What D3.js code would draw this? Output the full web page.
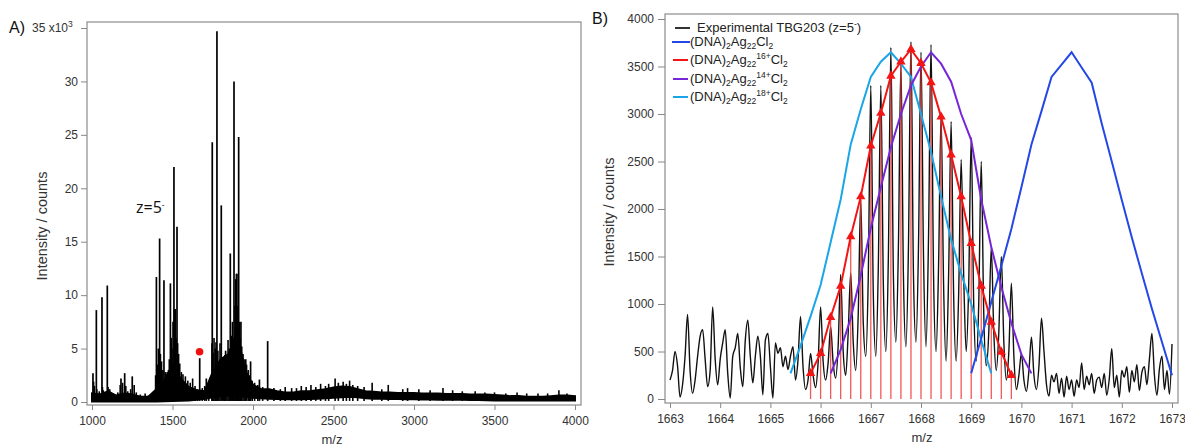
<!DOCTYPE html>
<html>
<head>
<meta charset="utf-8">
<script src="https://cdn.jsdelivr.net/npm/d3@7"></script>
<style>
  body { margin: 0; background: #fff; }
  svg { display: block; font-family: "Liberation Sans", Arial, sans-serif; }
  .tick text { fill: #333; font-size: 12px; }
  .tick line { stroke: #888; }
</style>
</head>
<body>
<svg id="chart" width="1185" height="447"></svg>
<script>
// ---- panel A data (intensity in x10^3 counts) ----
var majorMz  = [1006, 1027, 1062, 1095, 1180, 1203, 1250, 1400, 1420, 1447, 1467, 1487, 1509, 1518, 1528, 1669, 1710, 1747, 1776, 1803, 1830, 1859, 1882, 1897, 1911, 1925, 1955, 1985, 2040, 2091];
var majorInt = [2.7, 8.6, 9.8, 10.9, 2.2, 2.7, 2.4, 11.7, 15.3, 11.4, 2.8, 11.1, 22.0, 8.7, 16.4, 4.1, 2.2, 24.3, 34.7, 18.4, 4.8, 13.9, 30.0, 12.0, 24.8, 7.5, 4.0, 3.8, 2.1, 5.7];

var minorMz  = [1010, 1015, 1030, 1045, 1065, 1070, 1085, 1100, 1110, 1120, 1160, 1175, 1190, 1210, 1222, 1240, 1262, 1275, 1300, 1330, 1350, 1370,
                1395, 1405, 1412, 1425, 1432, 1440, 1455, 1460, 1475, 1480, 1492, 1497, 1503, 1512, 1516, 1522, 1532, 1538, 1545, 1555, 1565, 1580, 1595, 1610, 1625, 1640, 1655, 1685, 1700, 1725,
                1745, 1752, 1758, 1765, 1770, 1782, 1788, 1795, 1810, 1818, 1825, 1838, 1845, 1852, 1865, 1872, 1878, 1888, 1893, 1900, 1905, 1915, 1920, 1930, 1938, 1945, 1960, 1970, 1980, 1995, 2010, 2030, 2060,
                2130, 2170, 2200, 2240, 2270, 2300, 2330, 2360, 2390, 2420, 2450, 2470, 2510, 2530, 2560, 2580, 2600, 2620, 2650, 2690, 2740, 2800, 2840, 2930, 2960, 3030, 3100, 3180, 3240, 3300, 3380, 3440, 3500, 3570, 3640, 3700, 3770, 3830, 3900, 3950];
var minorInt = [1.9, 1.5, 1.2, 1.0, 1.4, 1.1, 0.9, 1.4, 1.2, 0.8, 0.9, 1.6, 1.8, 1.5, 1.0, 1.2, 1.6, 0.9, 0.7, 0.8, 0.6, 0.7,
                2.5, 3.5, 5.0, 4.5, 3.8, 3.0, 2.8, 2.6, 3.0, 4.0, 6.0, 5.0, 7.5, 8.7, 6.5, 6.0, 5.5, 4.5, 3.6, 2.8, 2.6, 2.4, 2.0, 1.8, 2.2, 1.5, 1.2, 1.3, 1.5, 1.7,
                5.5, 4.6, 6.0, 5.0, 5.6, 4.8, 3.5, 5.5, 3.8, 3.2, 4.4, 3.4, 5.8, 5.0, 6.2, 7.5, 6.0, 9.0, 11.5, 12.0, 9.0, 7.5, 6.0, 5.2, 4.5, 4.0, 3.5, 3.0, 2.5, 2.0, 1.8, 1.6, 1.4,
                1.3, 1.2, 1.4, 1.3, 1.3, 1.5, 1.4, 1.6, 1.4, 1.7, 1.5, 1.7, 2.2, 1.8, 1.9, 1.7, 2.0, 1.6, 1.5, 1.4, 1.8, 1.2, 1.6, 1.2, 1.3, 1.2, 1.1, 1.3, 1.1, 1.0, 1.0, 0.9, 0.9, 0.8, 0.9, 0.8, 0.8, 0.8, 1.1, 0.8];

// baseline band, every 50 m/z from 1000 to 4000
var bandMz = d3.range(1000, 4001, 50);
var bandTop = [0.8, 0.7, 1.0, 0.6, 0.8, 0.7, 0.5, 0.5, 1.2, 2.0, 3.5, 2.2, 1.4, 1.1, 1.0, 2.8, 4.0, 4.5, 6.5, 3.0, 1.6,
               1.2, 1.2, 1.0, 0.9, 0.9, 1.0, 1.0, 1.1, 1.2, 1.35, 1.45, 1.4, 1.2, 1.0, 0.95, 0.9, 0.9, 0.85, 0.85, 0.85,
               0.8, 0.8, 0.8, 0.75, 0.75, 0.75, 0.7, 0.7, 0.7, 0.65, 0.6, 0.55, 0.55, 0.5, 0.5, 0.5, 0.55, 0.6, 0.6, 0.55];
var bandBot = [0.05, 0.05, 0.05, 0.05, 0.05, 0.05, 0.05, 0.05, 0.05, 0.08, 0.1, 0.12, 0.15, 0.2, 0.3, 0.45, 0.55, 0.6, 0.6, 0.5, 0.4,
               0.35, 0.3, 0.28, 0.25, 0.25, 0.25, 0.28, 0.3, 0.35, 0.4, 0.45, 0.5, 0.45, 0.35, 0.3, 0.3, 0.28, 0.27, 0.26, 0.25,
               0.24, 0.23, 0.22, 0.21, 0.2, 0.2, 0.19, 0.18, 0.17, 0.15, 0.15, 0.15, 0.15, 0.15, 0.15, 0.15, 0.15, 0.15, 0.15, 0.15];

var markMz = 1668, markInt = 4.7;
var aYTicks = [0, 5, 10, 15, 20, 25, 30, 35];
var aXTicks = [1000, 1500, 2000, 2500, 3000, 3500, 4000];

// ---- panel B data ----
var expStart = 1663, expStep = 0.05;
var expInt = [
  200, 300, 500, 350, 20, 150, 450, 890, 300, 60, 200, 450, 660, 730, 420, 130, 300, 970, 420, 150,
  420, 590, 730, 270, 10, 450, 540, 690, 330, 130, 620, 830, 450, 170, 450, 660, 450, 45, 620, 690,
  340, 10, 590, 480, 540, 340, 450, 310, 450, 550, 200, 410, 870, 340, 100,
  200, 480, 250, 120, 380, 970, 400, 200, 380, 760, 380, 220, 560, 1310, 500, 250, 700, 1330, 600, 300,
  900, 2100, 800, 450, 1300, 3300, 1100, 450, 1400, 3300, 1200, 500, 1500, 3700, 1300, 600, 1600, 3550, 1300, 550,
  1600, 3760, 1300, 600, 1600, 3650, 1500, 550, 1700, 3730, 1300, 500, 1400, 3000, 1200, 400, 1300, 2920, 1100, 400,
  1100, 2520, 1300, 500, 1200, 2750, 1000, 400, 1000, 2500, 900, 350, 700, 1600, 700, 300, 700, 1500, 600, 200,
  500, 1220, 450, 100, 250, 480, 200, 80, 300, 650, 250, 100, 350, 850,
  500, 150, 30, 250, 180, 270, 60, 220, 20, 240, 100, 200, 30, 200, 120, 380, 100, 240, 150, 270,
  60, 200, 230, 120, 270, 40, 210, 530, 120, 250, 20, 300, 230, 340, 70, 300, 180, 360, 90, 280,
  340, 150, 420, 690, 250, 40, 320, 450, 100, 300, 50, 580];

var simStep = 0.2;
var blueStart = 1669.0;
var blueInt   = [270, 640, 1020, 1400, 1790, 2230, 2680, 3030, 3390, 3520, 3650, 3490, 3330, 2900, 2500, 2095, 1700, 1320, 950, 600, 250];
var redStart = 1665.8;
var redInt    = [270, 480, 860, 1190, 1710, 2130, 2665, 3010, 3400, 3550, 3680, 3535, 3330, 2970, 2570, 2130, 1640, 1190, 810, 495, 250];
var purpleStart = 1666.2;
var purpleInt = [270, 520, 850, 1300, 1800, 2230, 2650, 3000, 3300, 3500, 3650, 3530, 3340, 3000, 2725, 2100, 1600, 1180, 800, 470, 270];
var cyanStart = 1665.4;
var cyanInt   = [270, 560, 870, 1200, 1650, 2100, 2680, 3050, 3390, 3550, 3650, 3530, 3390, 3000, 2600, 2130, 1680, 1320, 1000, 620, 270];

var bXTicks = d3.range(1663, 1674);
var bYTicks = d3.range(0, 4001, 500);

var C_BLUE = "#2448e6", C_RED = "#f41414", C_PURPLE = "#7626d8", C_CYAN = "#1aa6e6";

(function(){
  var svg = d3.select("#chart");

  function toPts(start, vals) {
    return vals.map(function(v, i){ return [start + i * simStep, v]; });
  }

  // superscript/subscript text helper
  function richText(sel, parts) {
    var prev = 0;
    parts.forEach(function(p){
      var shift = p[1] === 1 ? 3 : (p[1] === -1 ? -5 : 0);
      sel.append("tspan")
        .attr("dy", shift - prev)
        .style("font-size", p[1] ? "8.5px" : null)
        .text(p[0]);
      prev = shift;
    });
  }

  /////////////////////////////////////////////////////////////////////
  // PANEL A
  /////////////////////////////////////////////////////////////////////
  var ax = d3.scaleLinear().domain([1000, 4000]).range([92, 575]),
      ay = d3.scaleLinear().domain([0, 35]).range([402, 28]);

  var gA = svg.append("g");

  gA.append("rect").attr("x", 87).attr("y", 22).attr("width", 494).attr("height", 383)
    .attr("fill", "none").attr("stroke", "#8c8c8c").attr("stroke-width", 1.2);

  var band = bandMz.map(function(m, i){ return {m: m, t: bandTop[i], b: bandBot[i]}; });
  gA.append("path").datum(band)
    .attr("d", d3.area().x(function(d){ return ax(d.m); })
      .y0(function(d){ return ay(d.b); }).y1(function(d){ return ay(d.t); }))
    .attr("fill", "#000").attr("stroke", "#000").attr("stroke-width", 2);

  gA.selectAll("line.minor").data(minorMz).enter().append("line")
    .attr("class", "minor")
    .attr("x1", function(d){ return ax(d); }).attr("x2", function(d){ return ax(d); })
    .attr("y1", ay(0.1)).attr("y2", function(d, i){ return ay(minorInt[i]); })
    .attr("stroke", "#000").attr("stroke-width", 1.6);

  gA.selectAll("line.major").data(majorMz).enter().append("line")
    .attr("class", "major")
    .attr("x1", function(d){ return ax(d); }).attr("x2", function(d){ return ax(d); })
    .attr("y1", ay(0.1)).attr("y2", function(d, i){ return ay(majorInt[i]); })
    .attr("stroke", "#000").attr("stroke-width", 1.7);

  gA.append("circle").attr("cx", ax(markMz)).attr("cy", ay(markInt)).attr("r", 3.8).attr("fill", "#f01010");

  var axA = gA.append("g").attr("transform", "translate(0,405)")
    .call(d3.axisBottom(ax).tickValues(aXTicks).tickSize(5).tickPadding(6).tickSizeOuter(0).tickFormat(d3.format("d")));
  axA.select(".domain").remove();

  var ayA = gA.append("g").attr("transform", "translate(87,0)")
    .call(d3.axisLeft(ay).tickValues(aYTicks).tickSize(6).tickPadding(3).tickSizeOuter(0)
      .tickFormat(function(d){ return d === 35 ? "" : d; }));
  ayA.select(".domain").remove();
  var top35 = gA.append("text").attr("x", 32).attr("y", ay(35) + 4).attr("fill", "#333").style("font-size", "12px");
  richText(top35, [["35 x10", 0], ["3", -1]]);

  gA.append("text").attr("transform", "translate(47,226) rotate(-90)")
    .attr("text-anchor", "middle").attr("fill", "#333").style("font-size", "14.5px")
    .text("Intensity / counts");
  gA.append("text").attr("x", 332).attr("y", 444).attr("text-anchor", "middle")
    .attr("fill", "#333").style("font-size", "13px").text("m/z");

  gA.append("text").attr("x", 9).attr("y", 33).style("font-size", "16px").attr("fill", "#111").text("A)");
  var zt = gA.append("text").attr("x", 136).attr("y", 213).style("font-size", "16px")
    .style("font-family", "'Open Sans', sans-serif").attr("fill", "#111");
  richText(zt, [["z=5", 0], ["-", -1]]);

  /////////////////////////////////////////////////////////////////////
  // PANEL B
  /////////////////////////////////////////////////////////////////////
  var bx = d3.scaleLinear().domain([1663, 1673]).range([670, 1172]),
      by = d3.scaleLinear().domain([0, 4000]).range([399, 19]);

  var gB = svg.append("g");

  gB.append("rect").attr("x", 665).attr("y", 14).attr("width", 513).attr("height", 389)
    .attr("fill", "none").attr("stroke", "#8c8c8c").attr("stroke-width", 1.2);

  var line = d3.line().x(function(d){ return bx(d[0]); }).y(function(d){ return by(d[1]); });

  // experimental trace
  var expPts = expInt.map(function(v, i){ return [expStart + i * expStep, v]; });
  gB.append("path").datum(expPts).attr("d", line.curve(d3.curveMonotoneX))
    .attr("fill", "none").attr("stroke", "#111").attr("stroke-width", 1.4);
  line.curve(d3.curveLinear);

  // red sticks
  var redPts = toPts(redStart, redInt);
  gB.selectAll("line.stick").data(redPts).enter().append("line")
    .attr("class", "stick")
    .attr("x1", function(d){ return bx(d[0]); }).attr("x2", function(d){ return bx(d[0]); })
    .attr("y1", by(0)).attr("y2", function(d){ return by(d[1]); })
    .attr("stroke", "#f03a3a").attr("stroke-opacity", 0.85).attr("stroke-width", 1.3);

  [[cyanStart, cyanInt, C_CYAN], [purpleStart, purpleInt, C_PURPLE], [blueStart, blueInt, C_BLUE]].forEach(function(s){
    gB.append("path").datum(toPts(s[0], s[1])).attr("d", line)
      .attr("fill", "none").attr("stroke", s[2]).attr("stroke-width", 2);
  });

  gB.append("path").datum(redPts).attr("d", line)
    .attr("fill", "none").attr("stroke", C_RED).attr("stroke-width", 2);
  gB.selectAll("path.tri").data(redPts).enter().append("path")
    .attr("class", "tri")
    .attr("transform", function(d){ return "translate(" + bx(d[0]) + "," + by(d[1]) + ")"; })
    .attr("d", d3.symbol().type(d3.symbolTriangle).size(38))
    .attr("fill", C_RED);

  var axB = gB.append("g").attr("transform", "translate(0,403)")
    .call(d3.axisBottom(bx).tickValues(bXTicks).tickSize(5).tickPadding(6).tickSizeOuter(0).tickFormat(d3.format("d")));
  axB.select(".domain").remove();
  var ayB = gB.append("g").attr("transform", "translate(665,0)")
    .call(d3.axisLeft(by).tickValues(bYTicks).tickSize(7).tickPadding(4).tickSizeOuter(0).tickFormat(d3.format("d")));
  ayB.select(".domain").remove();

  gB.append("text").attr("transform", "translate(614,212) rotate(-90)")
    .attr("text-anchor", "middle").attr("fill", "#333").style("font-size", "14.5px")
    .text("Intensity / counts");
  gB.append("text").attr("x", 922).attr("y", 442).attr("text-anchor", "middle")
    .attr("fill", "#333").style("font-size", "13px").text("m/z");
  gB.append("text").attr("x", 592).attr("y", 24).style("font-size", "16px").attr("fill", "#111").text("B)");

  // legend
  var legend = [
    {y: 28, x0: 675, x1: 690, tx: 697, c: "#333", parts: [["Experimental TBG203 (z=5", 0], ["-", -1], [")", 0]]},
    {y: 42, x0: 672, x1: 690, tx: 690, c: C_BLUE, parts: [["(DNA)", 0], ["2", 1], ["Ag", 0], ["22", 1], ["Cl", 0], ["2", 1]]},
    {y: 60, x0: 673, x1: 688, tx: 690, c: C_RED, parts: [["(DNA)", 0], ["2", 1], ["Ag", 0], ["22", 1], ["16+", -1], ["Cl", 0], ["2", 1]]},
    {y: 79, x0: 673, x1: 688, tx: 690, c: C_PURPLE, parts: [["(DNA)", 0], ["2", 1], ["Ag", 0], ["22", 1], ["14+", -1], ["Cl", 0], ["2", 1]]},
    {y: 97, x0: 673, x1: 688, tx: 690, c: C_CYAN, parts: [["(DNA)", 0], ["2", 1], ["Ag", 0], ["22", 1], ["18+", -1], ["Cl", 0], ["2", 1]]}
  ];
  legend.forEach(function(l){
    gB.append("line").attr("x1", l.x0).attr("x2", l.x1).attr("y1", l.y).attr("y2", l.y)
      .attr("stroke", l.c).attr("stroke-width", 2);
    var t = gB.append("text").attr("x", l.tx).attr("y", l.y + 4).attr("fill", "#222").style("font-size", "13px");
    richText(t, l.parts);
  });
})();
</script>
</body>
</html>
